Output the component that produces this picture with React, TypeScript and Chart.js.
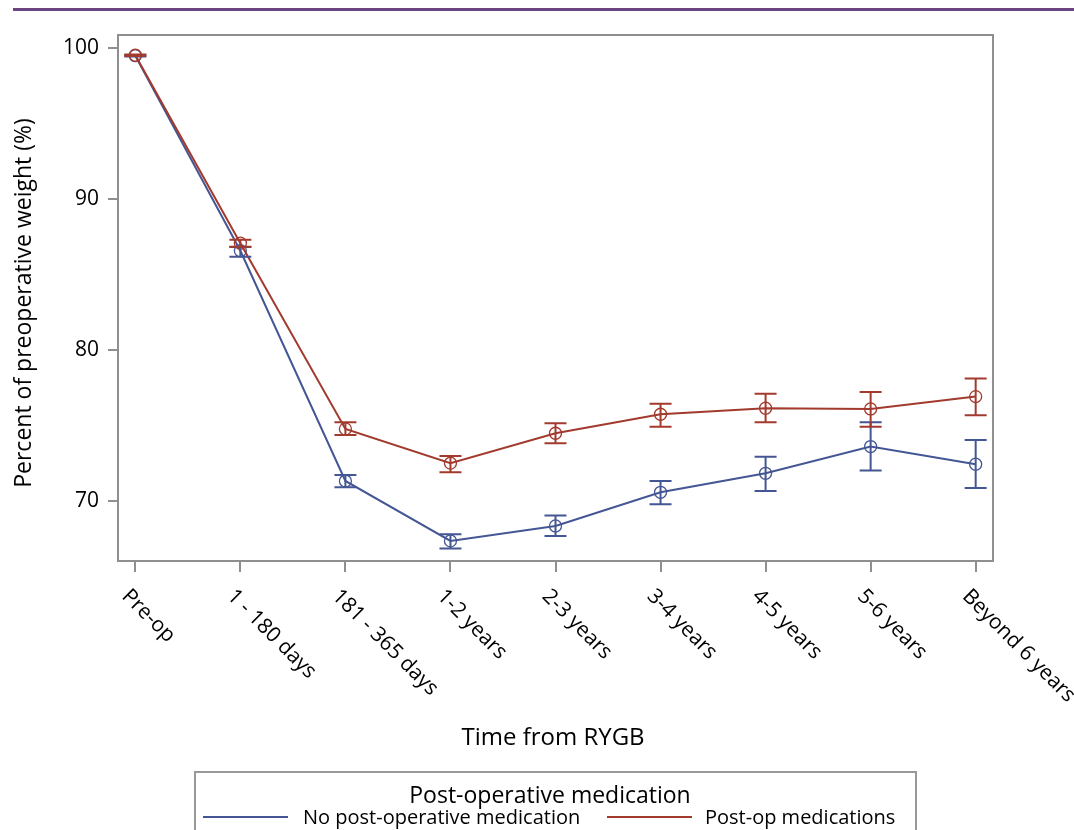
import React, { useEffect, useRef } from 'react';
import { Chart, registerables } from 'chart.js';

Chart.register(...registerables);

const categories = ['Pre-op', '1 - 180 days', '181 - 365 days', '1-2 years', '2-3 years', '3-4 years', '4-5 years', '5-6 years', 'Beyond 6 years'];
const noMedMean = [99.47, 86.55, 71.3, 67.33, 68.32, 70.55, 71.81, 73.58, 72.41];
const noMedLower = [99.42, 86.15, 70.88, 66.82, 67.66, 69.76, 70.64, 71.99, 70.84];
const noMedUpper = [99.52, 86.8, 71.7, 67.77, 69.01, 71.3, 72.91, 75.19, 74.02];
const medMean = [99.5, 87.05, 74.75, 72.48, 74.46, 75.72, 76.12, 76.07, 76.89];
const medLower = [99.45, 86.82, 74.35, 71.88, 73.8, 74.9, 75.19, 74.9, 75.65];
const medUpper = [99.55, 87.27, 75.19, 72.96, 75.13, 76.42, 77.07, 77.2, 78.08];
const yTicks = [70, 80, 90, 100];

const seriesNames = ['No post-operative medication', 'Post-op medications'];
const legendTitle = 'Post-operative medication';
const xTitle = 'Time from RYGB';
const yTitle = 'Percent of preoperative weight (%)';

const BLUE = '#445694';
const RED = '#A23A2E';
const AXIS = '#8f8f8f';
const FONT = '"Open Sans", sans-serif';

const decor = {
  id: 'decor',
  afterDatasetsDraw(chart: any) {
    const { ctx, scales } = chart;
    const x = scales.x;
    const y = scales.y;
    const groups: [number[], number[], string][] = [
      [noMedLower, noMedUpper, BLUE],
      [medLower, medUpper, RED],
    ];
    ctx.save();
    ctx.lineWidth = 2;
    groups.forEach(([lo, hi, col]) => {
      ctx.strokeStyle = col;
      lo.forEach((l, i) => {
        const px = x.getPixelForValue(i);
        const pl = y.getPixelForValue(l);
        const ph = y.getPixelForValue(hi[i]);
        ctx.beginPath();
        ctx.moveTo(px, pl);
        ctx.lineTo(px, ph);
        ctx.moveTo(px - 11, pl);
        ctx.lineTo(px + 11, pl);
        ctx.moveTo(px - 11, ph);
        ctx.lineTo(px + 11, ph);
        ctx.stroke();
      });
    });
    ctx.restore();
  },
  afterDraw(chart: any) {
    const { ctx, chartArea, scales } = chart;
    const x = scales.x;
    ctx.save();
    // frame
    ctx.strokeStyle = AXIS;
    ctx.lineWidth = 2;
    ctx.strokeRect(chartArea.left, chartArea.top, chartArea.right - chartArea.left, chartArea.bottom - chartArea.top);
    // top rule
    ctx.fillStyle = '#6b4583';
    ctx.fillRect(13, 8, 1061, 3);
    // x tick labels
    ctx.fillStyle = '#000';
    ctx.font = `21px ${FONT}`;
    ctx.textAlign = 'left';
    ctx.textBaseline = 'middle';
    categories.forEach((c, i) => {
      const px = x.getPixelForValue(i);
      ctx.save();
      ctx.translate(px - 10, 593);
      ctx.rotate(Math.PI / 4);
      ctx.fillText(c, 0, 0);
      ctx.restore();
    });
    // x title
    ctx.font = `24px ${FONT}`;
    ctx.textAlign = 'center';
    ctx.textBaseline = 'alphabetic';
    ctx.fillText(xTitle, 553, 745);
    // y title
    ctx.save();
    ctx.translate(31, 303);
    ctx.rotate(-Math.PI / 2);
    ctx.font = `23px ${FONT}`;
    ctx.fillText(yTitle, 0, 0);
    ctx.restore();
    // legend
    ctx.strokeStyle = '#999';
    ctx.lineWidth = 2;
    ctx.strokeRect(195, 772, 721, 80);
    ctx.font = `23px ${FONT}`;
    ctx.textAlign = 'center';
    ctx.fillText(legendTitle, 550, 803);
    ctx.font = `20px ${FONT}`;
    ctx.textAlign = 'left';
    const entries: [number, number, string][] = [
      [203, 303, BLUE],
      [607, 705, RED],
    ];
    entries.forEach(([lx, tx, col], i) => {
      ctx.strokeStyle = col;
      ctx.lineWidth = 2;
      ctx.beginPath();
      ctx.moveTo(lx, 817);
      ctx.lineTo(lx + 85, 817);
      ctx.stroke();
      ctx.fillText(seriesNames[i], tx, 824);
    });
    ctx.restore();
  },
};

export default function App() {
  const ref = useRef<HTMLCanvasElement | null>(null);
  useEffect(() => {
    if (!ref.current) return;
    const mk = (vals: number[], col: string, label: string) => ({
      label,
      data: vals.map((v, i) => ({ x: i, y: v })),
      borderColor: col,
      borderWidth: 2,
      pointRadius: 6,
      pointStyle: 'circle',
      pointBorderColor: col,
      pointBackgroundColor: 'rgba(0,0,0,0)',
      pointBorderWidth: 1.3,
      tension: 0,
    });
    const chart = new Chart(ref.current, {
      type: 'line',
      data: {
        datasets: [mk(medMean, RED, seriesNames[1]), mk(noMedMean, BLUE, seriesNames[0])],
      },
      options: {
        responsive: false,
        animation: false,
        devicePixelRatio: 1,
        layout: { padding: { left: 0, top: 35, right: 81, bottom: 0 } },
        plugins: { legend: { display: false }, tooltip: { enabled: false }, title: { display: false } },
        scales: {
          x: {
            type: 'linear',
            min: -0.165,
            max: 8.165,
            afterBuildTicks: (s: any) => {
              s.ticks = categories.map((_, i) => ({ value: i }));
            },
            afterFit: (s: any) => {
              s.height = 269;
            },
            ticks: { display: false },
            grid: { drawOnChartArea: false, drawTicks: true, tickLength: 11, color: AXIS, lineWidth: 2 },
            border: { display: false },
          },
          y: {
            type: 'linear',
            min: 66,
            max: 100.84,
            afterBuildTicks: (s: any) => {
              s.ticks = yTicks.map((v) => ({ value: v }));
            },
            afterFit: (s: any) => {
              s.width = 118;
            },
            ticks: { font: { family: FONT, size: 21 }, color: '#000', padding: 9 },
            grid: { drawOnChartArea: false, drawTicks: true, tickLength: 10, color: AXIS, lineWidth: 2 },
            border: { display: false },
          },
        },
      } as any,
      plugins: [decor],
    });
    return () => chart.destroy();
  }, []);
  return (
    <div style={{ position: 'absolute', left: 0, top: 0, width: 1074, height: 830, background: '#fff' }}>
      <canvas ref={ref} width={1074} height={830} style={{ display: 'block' }} />
    </div>
  );
}
